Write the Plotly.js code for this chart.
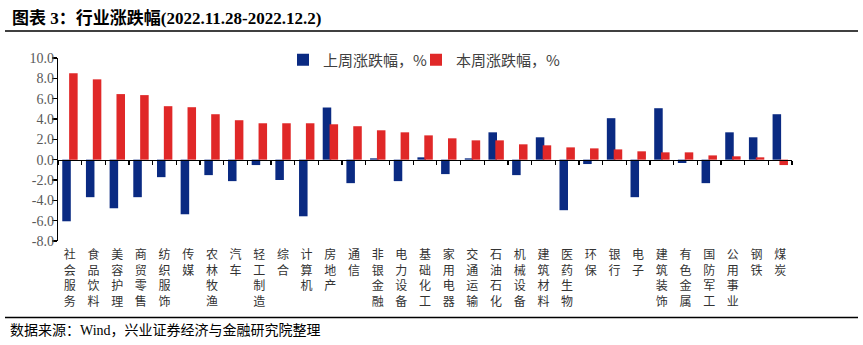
<!DOCTYPE html>
<html>
<head>
<meta charset="utf-8">
<script src="https://cdn.plot.ly/plotly-3.0.1.min.js"></script>
<style>html,body{margin:0;padding:0;background:#fff;}#chart{width:863px;height:345px;}</style>
</head>
<body>
<div id="chart"></div>
<script>
const categories = ["社会服务","食品饮料","美容护理","商贸零售","纺织服饰","传媒","农林牧渔","汽车","轻工制造","综合","计算机","房地产","通信","非银金融","电力设备","基础化工","家用电器","交通运输","石油石化","机械设备","建筑材料","医药生物","环保","银行","电子","建筑装饰","有色金属","国防军工","公用事业","钢铁","煤炭"];
const lastWeek = [-6.06,-3.69,-4.78,-3.69,-1.72,-5.37,-1.52,-2.11,-0.53,-2.0,-5.57,5.13,-2.31,0.13,-2.11,0.23,-1.42,0.13,2.69,-1.52,2.2,-4.97,-0.43,4.08,-3.69,5.06,-0.33,-2.31,2.69,2.2,4.47];
const thisWeek = [8.49,7.9,6.45,6.35,5.26,5.16,4.47,3.88,3.58,3.58,3.58,3.48,3.29,2.89,2.69,2.39,2.1,1.9,1.9,1.51,1.41,1.21,1.11,1.01,0.82,0.72,0.72,0.42,0.33,0.23,-0.53];
const seriesNames = ["上周涨跌幅，%","本周涨跌幅，%"];
const yTicks = [-8,-6,-4,-2,0,2,4,6,8,10];
const titleText = "图表 3：行业涨跌幅(2022.11.28-2022.12.2)";
const sourceText = "数据来源：Wind，兴业证券经济与金融研究院整理";

const cjk = "'Noto Sans CJK SC', sans-serif";
const serif = "'Liberation Serif', 'Noto Sans CJK SC', serif";

const W = 863, H = 345;
const L = 58, R = 792, T = 58, B = 241;
const pw = R - L, ph = B - T;
const px = v => (v - L) / pw;
const py = v => (B - v) / ph;

const traces = [
  {type:'bar', name:seriesNames[0], x:categories, y:lastWeek, marker:{color:'#0a2a82'}, width:0.36, offset:-0.32, xaxis:'x', yaxis:'y', hoverinfo:'x+y', legend:'legend'},
  {type:'bar', name:seriesNames[1], x:categories, y:thisWeek, marker:{color:'#e02828'}, width:0.36, offset:-0.03, xaxis:'x', yaxis:'y', hoverinfo:'x+y', legend:'legend2'},
  {type:'scatter', mode:'none', x:categories, y:thisWeek, xaxis:'x2', yaxis:'y', showlegend:false, hoverinfo:'skip'}
];

const legendFont = {family: cjk, size: 15, color: '#404040'};

const layout = {
  width: W, height: H,
  margin: {l: L, r: W - R, t: T, b: H - B, pad: 0},
  paper_bgcolor: '#fff', plot_bgcolor: '#fff',
  barmode: 'overlay',
  showlegend: true,
  title: {text: titleText, font: {family: serif, size: 17, color: '#000', weight: 'bold'}, xref: 'container', yref: 'container', x: 12/W, xanchor: 'left', y: 1 - 18/H, yanchor: 'middle'},
  xaxis: {
    type: 'category', categoryorder: 'array', categoryarray: categories,
    range: [-0.5, categories.length - 0.5],
    tickvals: categories, ticktext: categories.map(c => c.split('').join('<br>')),
    tickfont: {family: cjk, size: 12, color: '#333'},
    ticklabelstandoff: 5,
    showline: false, ticks: '', showgrid: false, zeroline: false, fixedrange: true
  },
  xaxis2: {
    type: 'category', categoryorder: 'array', categoryarray: categories,
    range: [-0.5, categories.length - 0.5],
    overlaying: 'x', anchor: 'free', position: 8/18,
    showline: true, linecolor: '#000', linewidth: 1.3,
    ticks: 'outside', ticklen: 4, tickwidth: 1.3, tickcolor: '#000', tickson: 'boundaries',
    showticklabels: false, showgrid: false, zeroline: false, fixedrange: true
  },
  yaxis: {
    range: [-8, 10], tickvals: yTicks, ticktext: yTicks.map(v => v.toFixed(1)),
    tickfont: {family: serif, size: 14, color: '#595959'},
    ticklabelstandoff: -5,
    showline: true, linecolor: '#000', linewidth: 1.3,
    ticks: 'outside', ticklen: 5, tickwidth: 1.3, tickcolor: '#000',
    showgrid: false, zeroline: false, fixedrange: true
  },
  legend: {
    orientation: 'h', x: px(283), xanchor: 'left', y: py(60), yanchor: 'middle',
    font: legendFont, bgcolor: 'rgba(0,0,0,0)'
  },
  legend2: {
    orientation: 'h', x: px(416), xanchor: 'left', y: py(60), yanchor: 'middle',
    font: legendFont, bgcolor: 'rgba(0,0,0,0)'
  },
  shapes: [
    {type:'line', xref:'paper', yref:'paper', x0:px(5), x1:px(858), y0:py(31), y1:py(31), line:{color:'#000', width:1.5}},
    {type:'line', xref:'paper', yref:'paper', x0:px(5), x1:px(858), y0:py(317.5), y1:py(317.5), line:{color:'#000', width:1.5}}
  ],
  annotations: [
    {text: sourceText, xref:'paper', yref:'paper', x: px(8), y: py(330), xanchor:'left', yanchor:'middle', showarrow:false, font:{family: serif, size: 14, color:'#000'}}
  ]
};

Plotly.newPlot('chart', traces, layout, {displayModeBar: false, staticPlot: true});
</script>
</body>
</html>
